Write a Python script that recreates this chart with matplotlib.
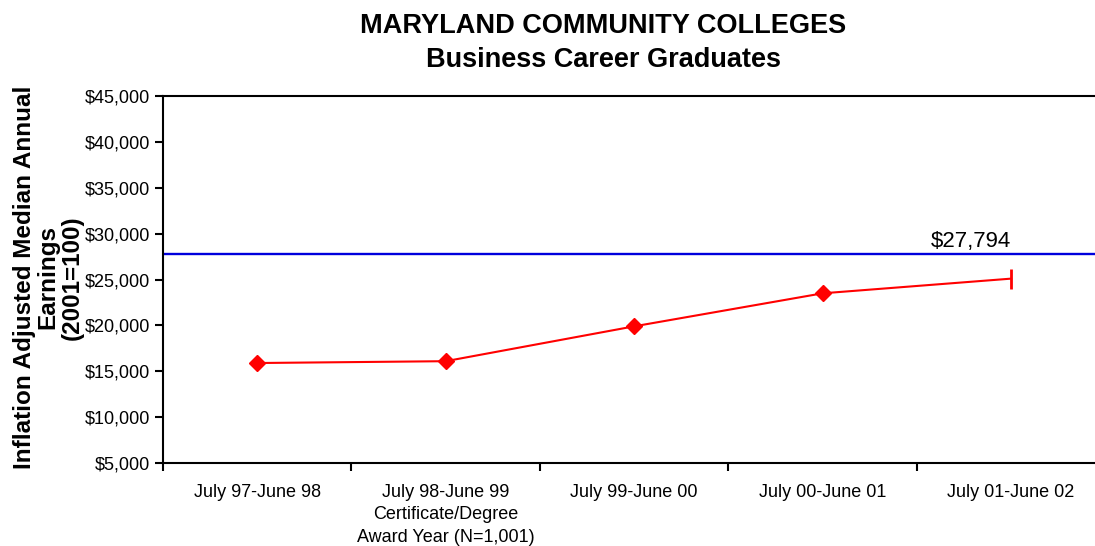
import matplotlib.pyplot as plt
from matplotlib.ticker import FuncFormatter

plt.rcParams['font.family'] = ['Liberation Sans', 'DejaVu Sans']

# award years and inflation-adjusted median earnings
years = ['July 97-June 98', 'July 98-June 99\nCertificate/Degree\nAward Year (N=1,001)',
         'July 99-June 00', 'July 00-June 01', 'July 01-June 02']
earnings = [15900, 16100, 19900, 23500, 25100]
reference_value = 27794

fig = plt.figure(figsize=(10.95, 5.46), dpi=100)
ax = fig.add_axes([0.1489, 0.152, 0.8605, 0.672])

x = list(range(len(years)))
ax.plot(x, earnings, color='#ff0000', lw=1.5, zorder=3)
ax.plot(x[:-1], earnings[:-1], ls='none', marker='D', ms=8, color='#ff0000', zorder=4)
ax.plot(x[-1:], earnings[-1:], ls='none', marker='|', ms=14, mew=2, color='#ff0000', zorder=4)

ax.axhline(reference_value, color='#0000dd', lw=1.7, zorder=2)
ax.text(x[-1], reference_value + 250, '${:,.0f}'.format(reference_value),
        ha='right', va='bottom', fontsize=16)

ax.set_xlim(-0.5, len(years) - 0.5)
ax.set_ylim(5000, 45000)
ax.set_yticks(range(5000, 45001, 5000))
ax.yaxis.set_major_formatter(FuncFormatter(lambda v, p: '${:,.0f}'.format(v)))

# tick marks between categories, labels centred under each point
ax.set_xticks([i - 0.5 for i in range(len(years) + 1)])
ax.set_xticklabels([])
ax.set_xticks(x, minor=True)
ax.set_xticklabels(years, minor=True, linespacing=1.42)
ax.tick_params(axis='x', which='minor', length=0, pad=15, labelsize=13)
ax.tick_params(axis='x', which='major', length=6, width=1.5, direction='out')
ax.tick_params(axis='y', length=6, width=1.5, direction='out', labelsize=13, pad=3)

for s in ax.spines.values():
    s.set_linewidth(1.5)

fig.text(0.044, 0.492, 'Inflation Adjusted Median Annual\nEarnings\n(2001=100)',
         rotation=90, ha='center', va='center', fontsize=17.5,
         fontweight='bold', linespacing=1.05)

fig.suptitle('MARYLAND COMMUNITY COLLEGES\nBusiness Career Graduates',
             fontsize=19.5, fontweight='bold', x=0.551, y=0.977, linespacing=1.42)

fig.savefig('out.png', dpi=100)
